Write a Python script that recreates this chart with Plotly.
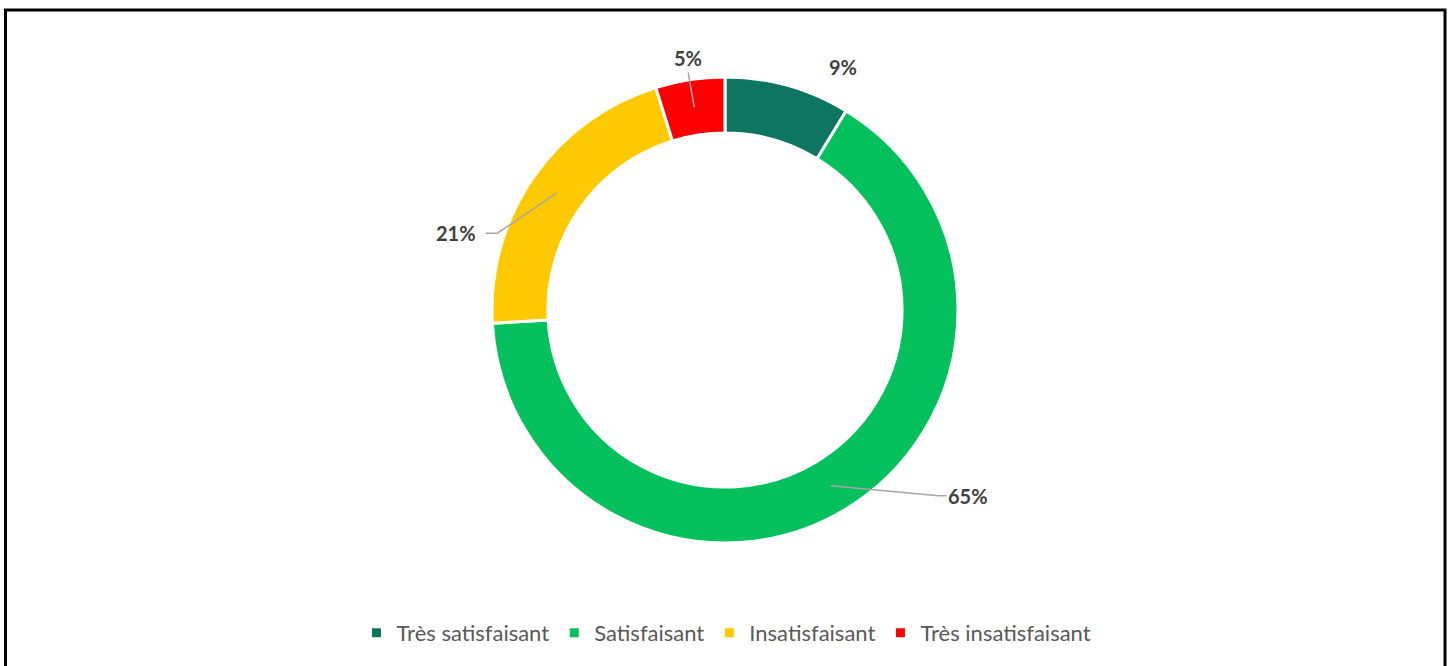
import math
import plotly.graph_objects as go

# ---- data ----
categories = ["Très satisfaisant", "Satisfaisant", "Insatisfaisant", "Très insatisfaisant"]
values = [8.7, 65.4, 21.1, 4.8]
colors = ["#0E7660", "#05C15D", "#FFC900", "#FF0000"]

# label offsets (px) from each slice's leader anchor
label_dx = [63, 138, -101, -6]
label_dy = [-46, 10, 40, -49]
# leader line: end point relative to label centre, horizontal elbow length (None = no leader)
lead_end_dx = [None, -22, 30, 0]
lead_end_dy = [None, 0, 0, 14]
lead_elbow = [None, -8, 12, 0]

# ---- geometry ----
W, H = 1453, 666
CX, CY = 725, 310          # donut centre in px
R_OUT = 233
HOLE = 0.76
R_MID = R_OUT * (1 + HOLE) / 2

fig = go.Figure(go.Pie(
    labels=categories,
    values=values,
    sort=False,
    direction="clockwise",
    rotation=0,
    hole=HOLE,
    marker=dict(colors=colors, line=dict(color="white", width=3)),
    textinfo="none",
    hoverinfo="label+percent",
    domain=dict(x=[(CX - R_OUT) / W, (CX + R_OUT) / W],
                y=[1 - (CY + R_OUT) / H, 1 - (CY - R_OUT) / H]),
))


def px2paper(x, y):
    return x / W, 1 - y / H


total = sum(values)
cum = 0.0
annotations = []
shapes = [dict(type="rect", xref="paper", yref="paper",
               x0=5.5 / W, x1=1445 / W, y0=-0.05, y1=1 - 10 / H,
               line=dict(color="black", width=3), fillcolor="rgba(0,0,0,0)")]
for i, v in enumerate(values):
    mid = (cum + v / 2) / total * 2 * math.pi
    cum += v
    ax_ = CX + R_MID * math.sin(mid)
    ay_ = CY - R_MID * math.cos(mid)
    lx, ly = ax_ + label_dx[i], ay_ + label_dy[i]
    px, py = px2paper(lx, ly)
    annotations.append(dict(
        x=px, y=py, xref="paper", yref="paper",
        text=f"<b>{round(v / total * 100)}%</b>",
        showarrow=False, xanchor="center", yanchor="middle",
        font=dict(family="Lato", size=20, color="#404040"),
    ))
    if lead_end_dx[i] is not None:
        ex, ey = lx + lead_end_dx[i], ly + lead_end_dy[i]
        bx, by = ex + lead_elbow[i], ey
        pts = [px2paper(ax_, ay_), px2paper(bx, by), px2paper(ex, ey)]
        path = "M {} {} L {} {} L {} {}".format(*[c for p in pts for c in p])
        shapes.append(dict(type="path", xref="paper", yref="paper", path=path,
                           line=dict(color="#A6A6A6", width=1.5)))

fig.update_layout(
    width=W, height=H,
    margin=dict(l=0, r=0, t=0, b=0),
    paper_bgcolor="white",
    plot_bgcolor="white",
    annotations=annotations,
    showlegend=True,
    legend=dict(orientation="h", x=0.5, xanchor="center", y=1 - 633 / H, yanchor="middle",
                font=dict(family="Lato", size=22, color="#595959"),
                itemwidth=30, traceorder="normal"),
    shapes=shapes,
)

fig.write_html("out.html", config={"displayModeBar": False},
               post_script="document.body.style.margin='0';document.body.style.overflow='hidden';")
